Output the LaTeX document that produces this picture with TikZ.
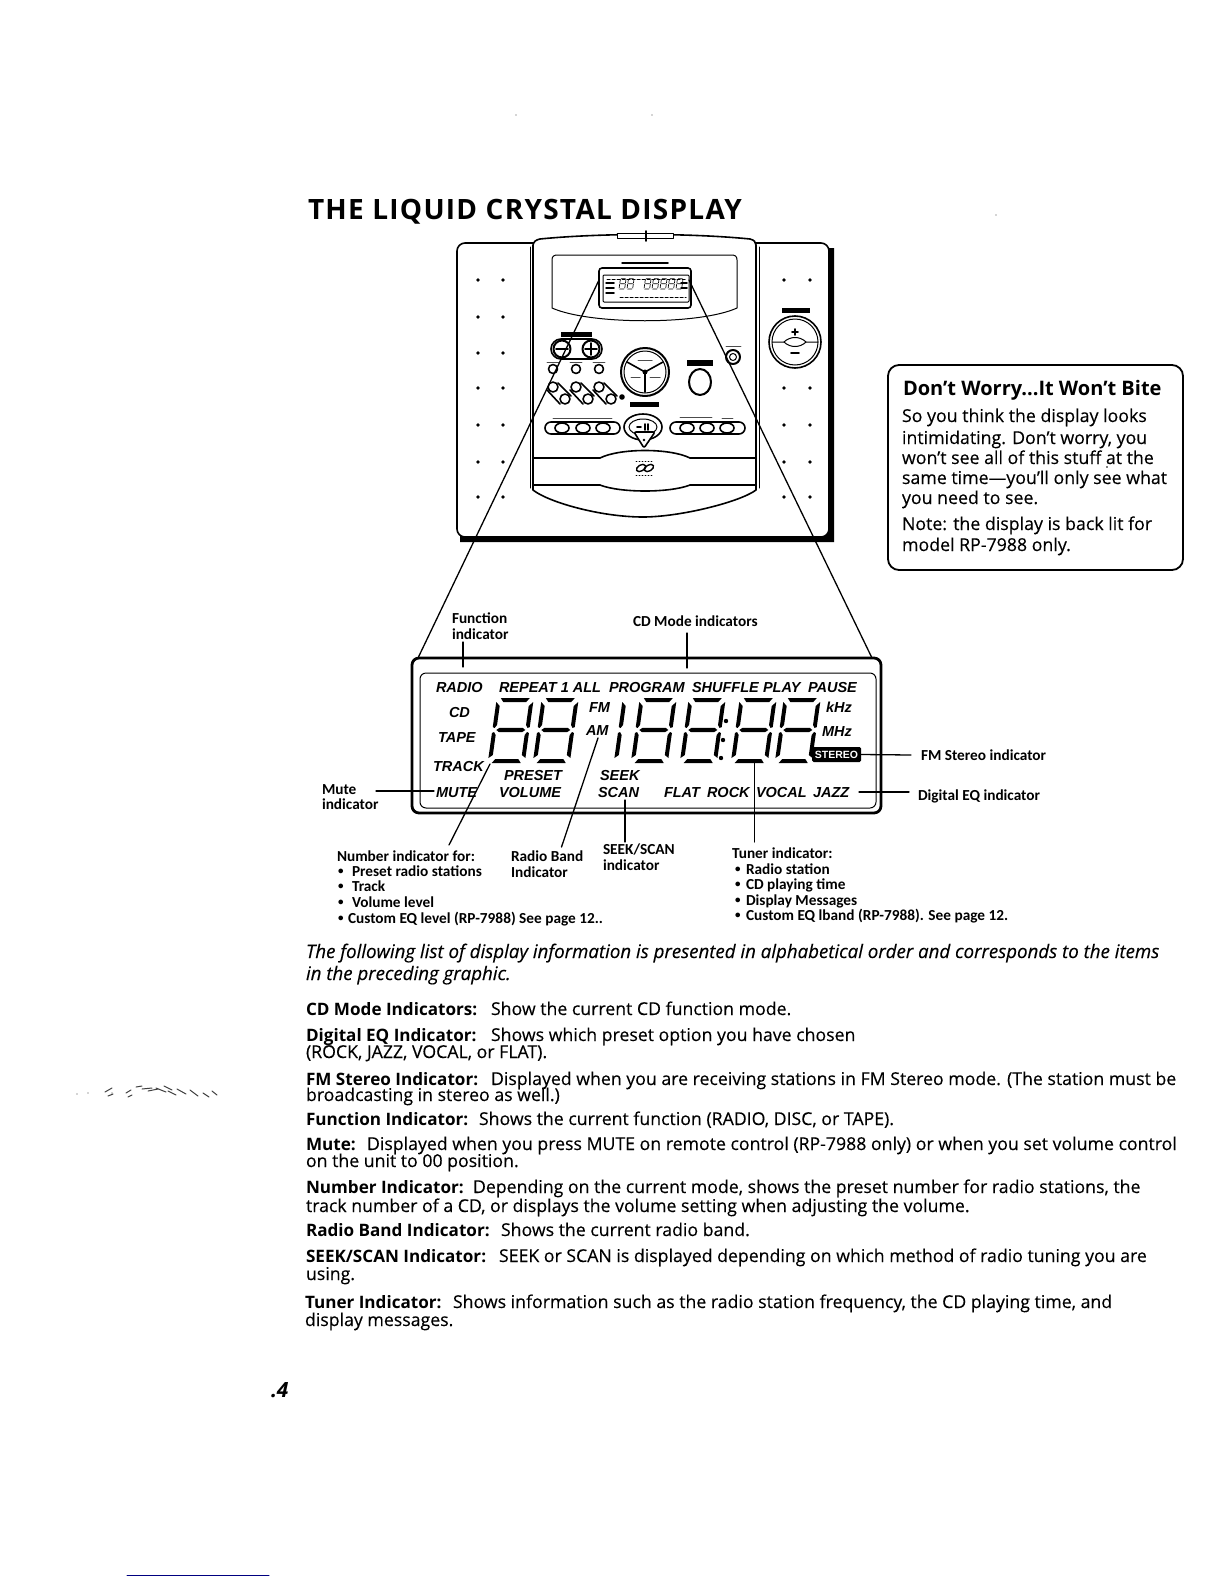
\documentclass[tikz,border=0pt]{standalone}
\usepackage{fontspec}
\setmainfont{Open Sans}[UprightFeatures={FakeBold=.25},ItalicFeatures={FakeBold=.25}]
\newfontfamily\lcdfont{Liberation Sans}
\newfontfamily\lblfont{Carlito}
\newcommand{\smbul}{\raisebox{1.2pt}{\fontsize{11}{11}\selectfont•}}
\tikzset{
	txt/.style={anchor=base west,inner sep=0pt,outer sep=0pt,text=black},
	bodytxt/.style={txt,font=\fontsize{17.7}{20}\selectfont},
	boldtxt/.style={txt,font=\fontsize{17.1}{20}\selectfont\bfseries},
	itatxt/.style={txt,font=\fontsize{18.7}{22}\selectfont\itshape},
	boxtxt/.style={txt,font=\fontsize{17.75}{20}\selectfont},
	lbl/.style={txt,font=\lblfont\fontsize{15.3}{17}\selectfont\bfseries},
	lcdtxt/.style={txt,font=\lcdfont\fontsize{14.5}{16}\selectfont\bfseries\itshape},
	thin1/.style={line width=1pt},
	thick1/.style={line width=1.6pt},
	leader/.style={line width=1.3pt},
	lcdone/.pic={
		\begin{scope}[xslant=.14]
		\fill (-2,-3) -- (2,-6) -- (2,-26) -- (0,-29) -- (-2,-28) -- cycle;
		\fill (-2,-34) -- (0,-33) -- (2,-36) -- (2,-55) -- (-2,-59) -- cycle;
		\end{scope}
	},
	lcddigit/.pic={
		\begin{scope}[xslant=.14]
		\fill (-2,-3) -- (2,-6) -- (2,-26) -- (0,-29) -- (-2,-28) -- cycle;
		\fill (-2,-34) -- (0,-33) -- (2,-36) -- (2,-55) -- (-2,-59) -- cycle;
		\fill (31,-6) -- (35,-3) -- (35,-28) -- (33,-29) -- (31,-26) -- cycle;
		\fill (31,-36) -- (33,-33) -- (35,-34) -- (35,-59) -- (31,-55) -- cycle;
		\fill (2,2) -- (31,2) -- (28,-2) -- (5,-2) -- cycle;
		\fill (2,-31) -- (5,-33.2) -- (28,-33.2) -- (31,-31) -- (28,-28.8) -- (5,-28.8) -- cycle;
		\fill (2,-63) -- (31,-63) -- (28,-59) -- (5,-59) -- cycle;
		\end{scope}
	}
}
\begin{document}
\begin{tikzpicture}[x=1pt,y=-1pt,line join=round,line cap=round,>=stealth]
	\useasboundingbox (0,0) rectangle (1224,1584);
	\fill[white] (0,0) rectangle (1224,1584);
	% Title
	\node[txt,font=\fontsize{28}{30}\selectfont\bfseries\addfontfeature{LetterSpace=4.5}] (title) at (308,219) {THE LIQUID CRYSTAL DISPLAY};
	% Base with shadow
	\fill[black] (770,248) -- (834,248) -- (834,542) -- (460,542) -- (460,530) -- (770,530) -- cycle;
	\draw[thick1,fill=white,rounded corners=8pt] (457,243) rectangle (829,537);
	\draw[thin1] (530,247) -- (530,488) (759,247) -- (759,488);
	% Main body
	\draw[thick1,fill=white] (533,490) -- (533,245) .. controls (534,241) and (536,240) .. (540,239)
	.. controls (600,233) and (690,233) .. (750,239) .. controls (754,240) and (756,242) .. (756,245)
	-- (756,490) .. controls (740,502) and (680,517) .. (643,517) .. controls (600,517) and (548,502) .. (533,490) -- cycle;
	\draw[thin1,fill=white] (617,233) rectangle (673,238);
	\draw[thick1] (646,231) -- (646,241);
	\draw[thick1] (533,458) -- (600,458) .. controls (620,448) and (670,448) .. (690,458) -- (756,458);
	\draw[thick1] (533,485) -- (600,485) .. controls (620,493) and (670,493) .. (690,485) -- (756,485);
	% Window
	\draw[thin1] (552,260) .. controls (552,256) and (554,255) .. (558,255) -- (731,255) .. controls (735,255) and (737,256) .. (737,260)
	-- (737,308) .. controls (700,325) and (590,325) .. (552,308) -- cycle;
	\draw[thick1,fill=white,rounded corners=3pt] (599,268) rectangle (691,308);
	\draw[thin1,rounded corners=1pt] (603,275) rectangle (689,302);
	\foreach \px in {619,627,644,652,660,668,676}
	\pic[scale=.17] (mini\px) at (\px,289) {lcddigit};
	\draw[line width=1pt,dash pattern=on 3pt off 2pt] (607,279) -- (686,279) (620,297) -- (686,297);
	\draw[line width=1.5pt] (606,283) -- (614,283) (606,288) -- (614,288) (606,293) -- (614,293)
	(681,283) -- (687,283) (681,288) -- (687,288) (622,263) -- (668,263);
	% Speaker dots
	\foreach \py in {280,317,353,388,425,462,497}{
		\fill (478,\py) circle (1.8pt);
		\fill (503,\py) circle (1.8pt);
		\fill (784,\py) circle (1.8pt);
		\fill (810,\py) circle (1.8pt);
	}
	\fill[white] (776,310) rectangle (818,372);
	% Volume knob
	\fill (782,308) rectangle (810,313);
	\draw[thick1] (795,342) circle (26pt);
	\draw[thin1] (795,342) circle (23pt);
	\draw[thin1] (772,342) -- (784,342) .. controls (790,336) and (800,336) .. (806,342) -- (818,342);
	\draw[thin1] (784,342) .. controls (790,348) and (800,348) .. (806,342);
	\draw[line width=1.8pt] (795,329) -- (795,335) (792,332) -- (798,332) (791,353) -- (799,353);
	% Buttons
	\fill (561,332) rectangle (592,337);
	\draw[thick1,rounded corners=10pt] (551,339) rectangle (602,359);
	\draw[line width=2pt] (562,349) circle (8.5pt) (591,349) circle (8.5pt);
	\draw[line width=1.8pt] (556,349) -- (568,349) (585,349) -- (597,349) (591,343) -- (591,355);
	\foreach \px in {553,576,599}{
		\draw[thick1] (\px,369) circle (4.5pt);
		\draw[line width=.9pt,black!70] (\px-6,362) -- (\px+6,362);
		\draw[thick1] (\px,387) circle (5pt) (\px+12,399) circle (5pt);
		\draw[thick1] (\px-6,390) -- (\px+7,404) (\px+5,383) -- (\px+18,396);
	}
	\fill (622,397) circle (2.8pt);
	% Dial
	\draw[line width=2pt] (645,372) circle (24pt);
	\draw[thin1] (645,372) circle (21pt);
	\draw[thick1] (645,372) -- (627,362) (645,372) -- (663,362) (645,372) -- (645,392);
	\fill (645,372) circle (2.5pt);
	\draw[line width=1pt,black!70] (638,360) -- (652,360) (631,377) -- (640,377) (650,377) -- (660,377);
	% Oval and jack
	\fill (687,360) rectangle (713,366);
	\draw[line width=2pt] (700,382) ellipse (11pt and 13pt);
	\draw[thin1] (689,385) .. controls (691,398) and (709,398) .. (711,385);
	\draw[line width=2pt] (733,357) circle (7pt);
	\draw[thin1] (733,357) circle (3.5pt);
	\draw[line width=.9pt,black!70] (726,346) -- (741,346);
	% Play buttons
	\fill (630,402) rectangle (659,407);
	\draw[thick1] (643,427) ellipse (19pt and 13pt);
	\draw[thin1] (643,427) ellipse (14pt and 8pt);
	\draw[line width=1.6pt] (637,427) -- (641,427) (645,424) -- (645,430) (648,424) -- (648,430);
	\draw[thick1,rounded corners=6pt] (545,422) rectangle (620,434);
	\draw[thick1,rounded corners=6pt] (670,422) rectangle (745,434);
	\foreach \px in {562,583,603,687,707,727}
	\draw[thick1,fill=white] (\px,428) ellipse (7pt and 5pt);
	\draw[line width=.9pt,black!70] (553,418) -- (612,418) (680,417) -- (712,417) (722,418) -- (733,418);
	\draw[thick1,rounded corners=2pt,fill=white] (634,432) -- (655,432) -- (644,448) -- cycle;
	\fill (644,440) circle (1.4pt);
	% CD logo
	\draw[line width=1.4pt,rotate around={30:(641,468)}] (641,468) ellipse (5pt and 3pt);
	\draw[line width=1.4pt,rotate around={30:(649,468)}] (649,468) ellipse (5pt and 3pt);
	\draw[line width=.8pt,dash pattern=on 1pt off 2pt] (636,461) -- (654,461) (636,475) -- (654,475);
	% LCD panel
	\draw[line width=2.8pt,rounded corners=7pt] (412,658) rectangle (881,813);
	\draw[thin1,rounded corners=6pt] (420,673) rectangle (876,808);
	\foreach \px/\py/\txt [count=\i] in {436/692/RADIO,499/692/REPEAT 1 ALL,609/692/PROGRAM,692/692/SHUFFLE,763/692/PLAY,808/692/PAUSE,
		449/717/CD,438/742/TAPE,433/771/TRACK,436/797/MUTE,504/780/PRESET,499/797/VOLUME,600/780/SEEK,598/797/SCAN,
		664/797/FLAT,707/797/ROCK,756/797/VOCAL,813/797/JAZZ,589/712/FM,586/735/AM,826/712/kHz,822/736/MHz}
	\node[lcdtxt] (lcd\i) at (\px,\py) {\txt};
	% Digits
	\foreach \px/\n in {490/a,535/b,633/c,682/d,733/e,777/f}
	\pic (dig\n) at (\px,761) {lcddigit};
	\pic (digone) at (616,761) {lcdone};
	\foreach \p in {(726,721),(723,740),(721,758)}
	\fill \p circle (2.2pt);
	\node[fill=black,rounded corners=1.5pt,text=white,inner sep=0pt,minimum width=49pt,minimum height=15pt,font=\lcdfont\fontsize{10.5}{12}\selectfont\bfseries] (stereo) at (836.5,754.5) {STEREO};
	% Label texts
	\foreach \px/\py/\txt [count=\i] in {452/623/Function,452/639/indicator,633/626/CD Mode indicators,921/760/FM Stereo indicator,918/800/Digital EQ indicator,322/794/Mute,322/809/indicator,
		337/861/Number indicator for:,338/876/\smbul,352/876/Preset radio stations,338/891/\smbul,352/891/Track,338/907/\smbul,352/907/Volume level,338/923/\smbul,348/923/Custom EQ level (RP-7988) See page 12..,
		511/861/Radio Band,511/877/Indicator,603/854/{SEEK/SCAN},603/870/indicator,
		732/858/Tuner indicator:,735/874/\smbul,746/874/Radio station,735/889/\smbul,746/889/CD playing time,735/905/\smbul,746/905/Display  Messages,735/920/\smbul,746/920/Custom EQ lband (RP-7988). See page 12.}
	\node[lbl] (lbl\i) at (\px,\py) {\txt};
	% Leader ends
	\path (599,280) coordinate (TL)
	(418,658) coordinate (BL)
	(689,280) coordinate (TR)
	(872,658) coordinate (BR)
	(463,642) coordinate (Fa)
	(463,667) coordinate (Fb)
	(687,633) coordinate (Ca)
	(687,668) coordinate (Cb)
	(490,764) coordinate (Na)
	(449,845) coordinate (Nb)
	(598,738) coordinate (Ra)
	(561.5,847) coordinate (Rb)
	(625,800) coordinate (Sa)
	(625,842) coordinate (Sb)
	(754.5,763) coordinate (Ua)
	(754.5,842) coordinate (Ub)
	(376,791) coordinate (Ma)
	(434,791) coordinate (Mb)
	(911,755) coordinate (Qa)
	(859,792) coordinate (Ea)
	(909,792) coordinate (Eb)
	;
	\foreach \a/\b in {TL/BL,TR/BR,Fa/Fb,Ca/Cb,Na/Nb,Ra/Rb,Sa/Sb,Ua/Ub,Ma/Mb,Ea/Eb}
	\draw[leader] (\a) -- (\b);
	\draw[leader] (stereo.east) -- (Qa);
	% Note box
	\draw[line width=1.8pt,rounded corners=11pt] (888,365) rectangle (1183,570);
	\node[txt,font=\fontsize{20}{24}\selectfont\bfseries] (notehead) at (903,395) {Don’t Worry...It Won’t Bite};
	\foreach \py/\txt [count=\i] in {422/So you think the display looks,444/{intimidating. Don’t worry, you},464/won’t see all of this stuff at the,484/same time—you’ll only see what,504/you need to see.,530/Note: the display is back lit for,551/model RP-7988 only.}
	\node[boxtxt] (note\i) at (902,\py) {\txt};
	\fill (1107,467) circle (.9pt);
	% Intro
	\node[itatxt] (intro1) at (306,958) {The following list of display information is presented in alphabetical order and corresponds to the items};
	\node[itatxt] (intro2) at (306,980) {in the preceding graphic.};
	% Terms
	\foreach \px/\py/\txt [count=\i] in {306/1015/CD Mode Indicators:,306/1041/Digital EQ Indicator:,306/1085/FM Stereo Indicator:,306/1125/Function Indicator:,306/1150/Mute:,306/1193/Number Indicator:,306/1236/Radio Band Indicator:,306/1262/{SEEK/SCAN Indicator:},305/1308/Tuner Indicator:}
	\node[boldtxt] (term\i) at (\px,\py) {\txt};
	% Descriptions
	\foreach \px/\py/\txt [count=\i] in {491/1015/Show the current CD function mode.,
		491/1041/Shows which preset option you have chosen,306/1058/{(ROCK, JAZZ, VOCAL, or FLAT).},
		491/1085/Displayed when you are receiving stations in FM Stereo mode. (The station must be,306/1101/broadcasting in stereo as well.),
		479/1125/{Shows the current function (RADIO, DISC, or TAPE).},
		367/1150/Displayed when you press MUTE on remote control (RP-7988 only) or when you set volume control,306/1167/on the unit to 00 position.,
		473/1193/{Depending on the current mode, shows the preset number for radio stations, the},306/1212/{track number of a CD, or displays the volume setting when adjusting the volume.},
		501/1236/Shows the current radio band.,
		499/1262/SEEK or SCAN is displayed depending on which method of radio tuning you are,306/1280/using.,
		453/1308/{Shows information such as the radio station frequency, the CD playing time, and},305/1326/display messages.}
	\node[bodytxt] (desc\i) at (\px,\py) {\txt};
	% Page number
	\node[txt,font=\fontsize{21}{24}\selectfont\bfseries\itshape] (pagenum) at (271,1397) {.4};
	% Scan marks
	\draw[color=blue!50!black,line width=1pt] (127,1575) -- (269,1575);
	\foreach \p in {(516,115),(652,115),(996,215),(77,1094),(88,1093),(112,1093)}
	\fill[black!70] \p circle (.7pt);
	\foreach \xa/\ya/\xb/\yb in {105/1092/112/1088,108/1096/113/1094,126/1093/131/1090,128/1097/132/1095,136/1087/142/1086,
		142/1089/152/1088,148/1091/158/1089,156/1088/166/1092,164/1086/172/1090,168/1091/176/1095,177/1089/186/1094,190/1090/198/1096,203/1093/209/1097,212/1091/217/1095}
	\draw[black!75,line width=1pt] (\xa,\ya) -- (\xb,\yb);
\end{tikzpicture}
\end{document}
